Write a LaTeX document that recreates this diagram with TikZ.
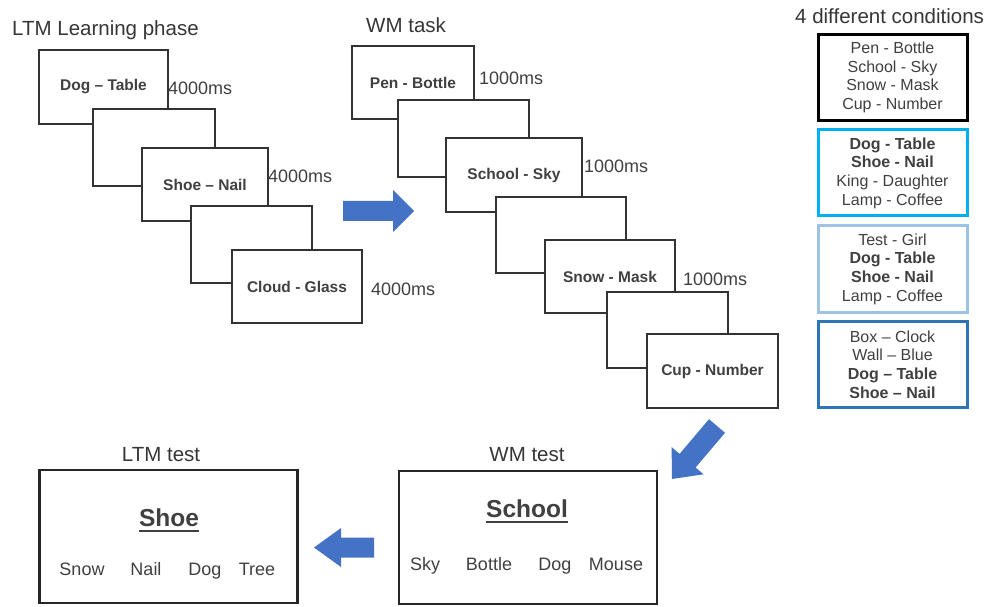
\documentclass[tikz,border=0pt]{standalone}
\usepackage{fontspec}
\setmainfont{Liberation Sans}
\definecolor{txt}{HTML}{404040}
\definecolor{arrowblue}{HTML}{4472C4}
\definecolor{condcyan}{HTML}{00B0F0}
\definecolor{condlight}{HTML}{9DC3E6}
\definecolor{conddark}{HTML}{2E75B6}
\newcommand\myslidefont{\fontsize{15.5}{18}\selectfont\bfseries}
\newcommand\mytitlefont{\fontsize{20.5}{24}\selectfont}
\newcommand\mytimefont{\fontsize{18}{21}\selectfont}
\newcommand\mycondfont{\fontsize{16}{18.7}\selectfont}
\newcommand\mybigfont{\fontsize{24.5}{28}\selectfont\bfseries}
\begin{document}
\begin{tikzpicture}[x=1pt,y=-1pt,
  slide/.style={draw=black!80, line width=1.3pt, fill=white, inner sep=0pt,
    text=txt, font=\myslidefont},
  titletext/.style={inner sep=0pt, text=txt!85!black, font=\mytitlefont},
  timetext/.style={inner sep=0pt, text=txt, font=\mytimefont, anchor=base west},
  condbox/.style={line width=3pt, fill=white, inner sep=0pt, text=txt,
    font=\mycondfont, align=center, minimum width=149pt, minimum height=86pt},
  testbox/.style={draw=black!85, line width=2.5pt, fill=white, inner sep=0pt,
    minimum width=258pt, minimum height=133pt},
  bigword/.style={inner sep=0pt, text=txt, font=\mybigfont, anchor=base},
  choice/.style={inner sep=0pt, text=txt, font=\mytimefont, anchor=base},
  blockarrow/.style={fill=arrowblue, draw=none}]
\useasboundingbox (0,0) rectangle (989,607);

% ---------- LTM learning phase ----------
\node[titletext, anchor=base west] (ltmtitle) at (12,36) {LTM Learning phase};
\node[slide, minimum width=129pt, minimum height=74pt] (l1) at (103.5,87) {Dog -- Table};
\node[slide, minimum width=122pt, minimum height=77pt] (l2) at (154,147.5) {};
\node[slide, minimum width=126pt, minimum height=73pt] (l3) at (205,184.5) {Shoe -- Nail};
\node[slide, minimum width=121pt, minimum height=77pt] (l4) at (251.5,244.5) {};
\node[slide, minimum width=130pt, minimum height=73pt] (l5) at (297,286.5) {Cloud - Glass};
\node[timetext] (t1) at (168,95) {4000ms};
\node[timetext] (t2) at (268,183) {4000ms};
\node[timetext] (t3) at (371,295) {4000ms};

% ---------- WM task ----------
\node[titletext, anchor=base west] (wmtitle) at (366,33) {WM task};
\node[slide, minimum width=122pt, minimum height=73pt] (w1) at (413,82.5) {Pen - Bottle};
\node[slide, minimum width=131pt, minimum height=77pt] (w2) at (463.5,138.5) {};
\node[slide, minimum width=136pt, minimum height=74pt] (w3) at (514,175) {School - Sky};
\node[slide, minimum width=130pt, minimum height=76pt] (w4) at (561,235) {};
\node[slide, minimum width=130pt, minimum height=73pt] (w5) at (610,276.5) {Snow - Mask};
\node[slide, minimum width=121pt, minimum height=76pt] (w6) at (667.5,330) {};
\node[slide, minimum width=131pt, minimum height=74pt] (w7) at (712.5,371) {Cup - Number};
\node[timetext] (t4) at (479,85) {1000ms};
\node[timetext] (t5) at (584,173) {1000ms};
\node[timetext] (t6) at (683,285) {1000ms};

% ---------- Conditions ----------
\node[titletext, anchor=base west] (condtitle) at (795,24) {4 different conditions};
\node[condbox, draw=black] (c1) at (892.5,77.5)
  {Pen - Bottle\\School - Sky\\Snow - Mask\\Cup - Number};
\node[condbox, draw=condcyan] (c2) at (892.5,173)
  {\textbf{Dog - Table}\\\textbf{Shoe - Nail}\\King - Daughter\\Lamp - Coffee};
\node[condbox, draw=condlight] (c3) at (892.5,269)
  {Test - Girl\\\textbf{Dog - Table}\\\textbf{Shoe - Nail}\\Lamp - Coffee};
\node[condbox, draw=conddark] (c4) at (892.5,364.5)
  {Box -- Clock\\Wall -- Blue\\\textbf{Dog -- Table}\\\textbf{Shoe -- Nail}};

% ---------- Tests ----------
\node[titletext, anchor=base] (ltmtesttitle) at (161,461) {LTM test};
\node[testbox] (ltmtest) at (168.5,536.5) {};
\node[bigword] (shoe) at (169,526.5) {Shoe};
\draw[txt, line width=2pt] ([yshift=-4.5pt]shoe.base west) -- ([yshift=-4.5pt]shoe.base east);
\node[choice] (a1) at (82,575) {Snow};
\node[choice] (a2) at (146,575) {Nail};
\node[choice] (a3) at (205,575) {Dog};
\node[choice] (a4) at (257,575) {Tree};

\node[titletext, anchor=base] (wmtesttitle) at (527,461) {WM test};
\node[testbox] (wmtest) at (528,537.5) {};
\node[bigword] (school) at (527,517) {School};
\draw[txt, line width=2pt] ([yshift=-4.5pt]school.base west) -- ([yshift=-4.5pt]school.base east);
\node[choice] (b1) at (425,570.5) {Sky};
\node[choice] (b2) at (489,570.5) {Bottle};
\node[choice] (b3) at (555,570.5) {Dog};
\node[choice] (b4) at (616,570.5) {Mouse};

% ---------- Block arrows ----------
\fill[blockarrow] (343,201) -- (393,201) -- (393,190) -- (414,211) -- (393,232)
  -- (393,221) -- (343,221) -- cycle;
\fill[blockarrow] (725,432.8) -- (695.6,467.5) -- (703.6,474.3) -- (672,479)
  -- (671.6,447.1) -- (679.6,453.9) -- (709,419.2) -- cycle;
\fill[blockarrow] (374,537.5) -- (341,537.5) -- (341,528) -- (314,547.5) -- (341,567)
  -- (341,557.5) -- (374,557.5) -- cycle;
\end{tikzpicture}
\end{document}
